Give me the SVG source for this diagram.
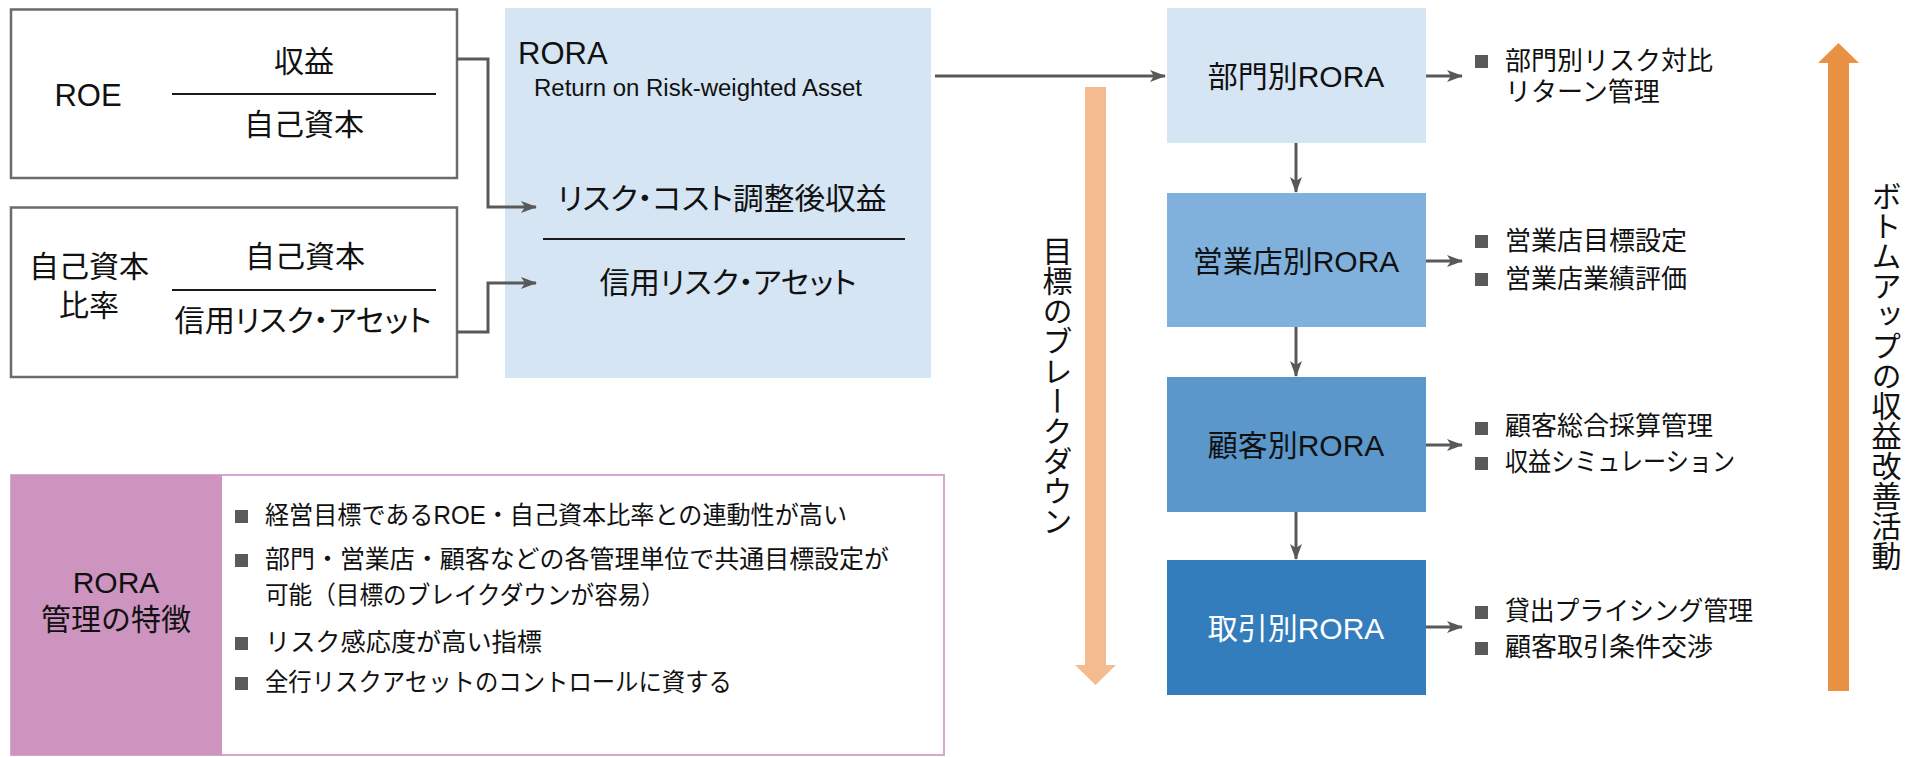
<svg xmlns="http://www.w3.org/2000/svg" width="1919" height="757" viewBox="0 0 1919 757">
<style>
text{font-family:"Liberation Sans","Noto Sans CJK JP",sans-serif;fill:#111;}
.f30{font-size:30px;}
.f31{font-size:31px;}
.f26{font-size:26px;}
.f25{font-size:25px;}
.mid{text-anchor:middle;}
.palt{font-feature-settings:"palt";}
.frame{fill:#fff;stroke:#6b6b6b;stroke-width:2.5;}
.rule{stroke:#1a1a1a;stroke-width:2;}
.conn{fill:none;stroke:#595959;stroke-width:3;}
.sq{fill:#5a5a5a;}
.vert{writing-mode:vertical-rl;font-size:30px;}
.white{fill:#fff;}
</style>
<defs>
<marker id="ah" markerUnits="userSpaceOnUse" markerWidth="16" markerHeight="14" refX="15" refY="7" orient="auto">
<path d="M0,1 L16,7 L0,13 L4,7 z" fill="#595959"/>
</marker>
</defs>

<g id="roe">
<rect class="frame" x="11" y="9.5" width="446" height="168.5"/>
<text class="f31 mid" x="88" y="106">ROE</text>
<line class="rule" x1="172" y1="94" x2="436" y2="94"/>
<text class="f30 mid" x="304" y="72">収益</text>
<text class="f30 mid" x="304" y="135">自己資本</text>
</g>

<g id="capital-ratio">
<rect class="frame" x="11" y="207.5" width="446" height="169.5"/>
<text class="f30 mid" x="89" y="277">自己資本</text>
<text class="f30 mid" x="89" y="316">比率</text>
<text class="f30 mid" x="305" y="267">自己資本</text>
<line class="rule" x1="172" y1="290" x2="436" y2="290"/>
<text class="f30 mid palt" x="303" y="331" textLength="257" lengthAdjust="spacingAndGlyphs">信用リスク・アセット</text>
</g>

<g id="rora">
<rect x="505" y="8" width="426" height="370" fill="#d5e5f4"/>
<text class="f31" x="518" y="64">RORA</text>
<text x="534" y="96" style="font-size:23.5px" textLength="328" lengthAdjust="spacingAndGlyphs">Return on Risk-weighted Asset</text>
<text class="f30 mid palt" x="722" y="209" textLength="329" lengthAdjust="spacingAndGlyphs">リスク・コスト調整後収益</text>
<line class="rule" x1="543" y1="239" x2="905" y2="239"/>
<text class="f30 mid palt" x="728" y="293" textLength="257" lengthAdjust="spacingAndGlyphs">信用リスク・アセット</text>
</g>

<g id="features">
<rect x="11" y="475" width="933" height="280" fill="#fff" stroke="#d9a6cf" stroke-width="2"/>
<rect x="11" y="475" width="211" height="280" fill="#cc94bf"/>
<text class="f30 mid" x="116" y="593">RORA</text>
<text class="f30 mid" x="116" y="630">管理の特徴</text>
<rect class="sq" x="235" y="510" width="13" height="13"/>
<text class="f25" x="265" y="524" textLength="582" lengthAdjust="spacingAndGlyphs">経営目標であるROE・自己資本比率との連動性が高い</text>
<rect class="sq" x="235" y="554" width="13" height="13"/>
<text class="f25" x="265" y="568" textLength="624" lengthAdjust="spacingAndGlyphs">部門・営業店・顧客などの各管理単位で共通目標設定が</text>
<text class="f25" x="265" y="604" textLength="400" lengthAdjust="spacingAndGlyphs">可能（目標のブレイクダウンが容易）</text>
<rect class="sq" x="235" y="637" width="13" height="13"/>
<text class="f25" x="265" y="651" textLength="277" lengthAdjust="spacingAndGlyphs">リスク感応度が高い指標</text>
<rect class="sq" x="235" y="677" width="13" height="13"/>
<text class="f25" x="265" y="691" textLength="467" lengthAdjust="spacingAndGlyphs">全行リスクアセットのコントロールに資する</text>
</g>

<g id="dept-rora">
<rect x="1167" y="8" width="259" height="135" fill="#d5e5f4"/>
<text class="f30 mid" x="1296" y="87">部門別RORA</text>
</g>
<g id="branch-rora">
<rect x="1167" y="193" width="259" height="134" fill="#7fb1dc"/>
<text class="f30 mid" x="1296" y="272">営業店別RORA</text>
</g>
<g id="customer-rora">
<rect x="1167" y="377" width="259" height="135" fill="#5b97cb"/>
<text class="f30 mid" x="1296" y="456">顧客別RORA</text>
</g>
<g id="deal-rora">
<rect x="1167" y="560" width="259" height="135" fill="#337dbd"/>
<text class="f30 mid white" x="1296" y="639">取引別RORA</text>
</g>

<g id="dept-notes">
<rect class="sq" x="1475" y="55" width="13" height="13"/>
<text class="f26" x="1505" y="70">部門別リスク対比</text>
<text class="f26" x="1505" y="101">リターン管理</text>
</g>
<g id="branch-notes">
<rect class="sq" x="1475" y="235" width="13" height="13"/>
<text class="f26" x="1505" y="250">営業店目標設定</text>
<rect class="sq" x="1475" y="273" width="13" height="13"/>
<text class="f26" x="1505" y="288">営業店業績評価</text>
</g>
<g id="customer-notes">
<rect class="sq" x="1475" y="422" width="13" height="13"/>
<text class="f26" x="1505" y="435">顧客総合採算管理</text>
<rect class="sq" x="1475" y="457" width="13" height="13"/>
<text class="f26" x="1505" y="471" textLength="230" lengthAdjust="spacingAndGlyphs">収益シミュレーション</text>
</g>
<g id="deal-notes">
<rect class="sq" x="1475" y="606" width="13" height="13"/>
<text class="f26" x="1505" y="620" textLength="248" lengthAdjust="spacingAndGlyphs">貸出プライシング管理</text>
<rect class="sq" x="1475" y="642" width="13" height="13"/>
<text class="f26" x="1505" y="656">顧客取引条件交渉</text>
</g>

<g id="breakdown">
<path d="M1085,87 H1106 V665 H1116 L1095.5,685 L1075,665 H1085 Z" fill="#f3bb8f"/>
<text class="vert" x="1055" y="236">目標のブレークダウン</text>
</g>
<g id="bottom-up">
<path d="M1828,691 H1849 V63 H1859 L1838.5,43 L1818,63 H1828 Z" fill="#ea9243"/>
<text class="vert" x="1884" y="181">ボトムアップの収益改善活動</text>
</g>

<g id="connectors">
<path class="conn" d="M457,59 H488 V207 H536" marker-end="url(#ah)"/>
<path class="conn" d="M457,332 H488 V283 H536" marker-end="url(#ah)"/>
<path class="conn" d="M935,76 H1165" marker-end="url(#ah)"/>
<path class="conn" d="M1296,143 V192" marker-end="url(#ah)"/>
<path class="conn" d="M1296,327 V376" marker-end="url(#ah)"/>
<path class="conn" d="M1296,512 V559" marker-end="url(#ah)"/>
<path class="conn" d="M1426,76 H1462" marker-end="url(#ah)"/>
<path class="conn" d="M1426,261 H1462" marker-end="url(#ah)"/>
<path class="conn" d="M1426,445 H1462" marker-end="url(#ah)"/>
<path class="conn" d="M1426,627 H1462" marker-end="url(#ah)"/>
</g>
</svg>
